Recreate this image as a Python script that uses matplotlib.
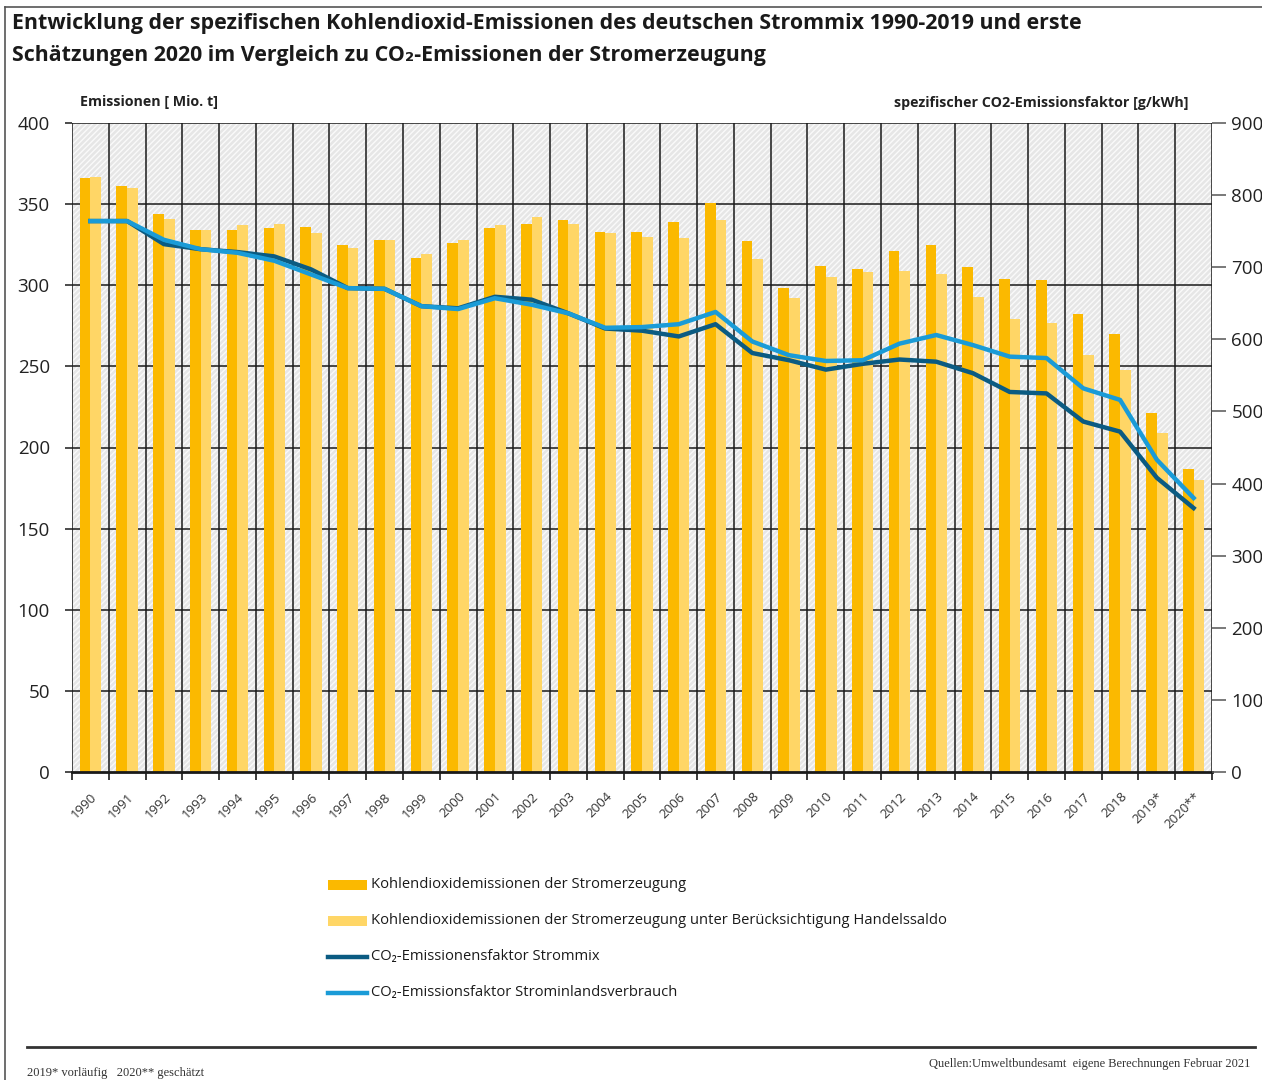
import matplotlib
matplotlib.use("Agg")
import matplotlib.pyplot as plt
import numpy as np
from matplotlib.patches import Rectangle
from matplotlib.lines import Line2D

# ---------------- data ----------------
years = ["1990", "1991", "1992", "1993", "1994", "1995", "1996", "1997", "1998", "1999",
         "2000", "2001", "2002", "2003", "2004", "2005", "2006", "2007", "2008", "2009",
         "2010", "2011", "2012", "2013", "2014", "2015", "2016", "2017", "2018", "2019*", "2020**"]

emissions_generation = [366, 361, 344, 334, 334, 335, 336, 325, 328, 317,
                        326, 335, 338, 340, 333, 333, 339, 351, 327, 298,
                        312, 310, 321, 325, 311, 304, 303, 282, 270, 221, 187]

emissions_trade = [367, 360, 341, 334, 337, 338, 332, 323, 328, 319,
                   328, 337, 342, 338, 332, 330, 329, 340, 316, 292,
                   305, 308, 309, 307, 293, 279, 277, 257, 248, 209, 180]

factor_strommix = [764, 764, 732, 725, 721, 715, 697, 671, 670, 646,
                   643, 659, 655, 636, 615, 612, 604, 621, 581, 571,
                   558, 566, 572, 569, 553, 527, 525, 486, 472, 408, 366]

factor_inland = [764, 764, 738, 725, 720, 709, 690, 671, 670, 646,
                 642, 657, 648, 636, 616, 617, 621, 638, 597, 578,
                 570, 571, 594, 606, 592, 576, 574, 532, 516, 433, 380]

legend_labels = ["Kohlendioxidemissionen der Stromerzeugung",
                 "Kohlendioxidemissionen der Stromerzeugung unter Berücksichtigung Handelssaldo",
                 "CO\u2082-Emissionensfaktor Strommix",
                 "CO\u2082-Emissionsfaktor Strominlandsverbrauch"]

title_line1 = "Entwicklung der spezifischen Kohlendioxid-Emissionen des deutschen Strommix 1990-2019 und erste"
title_line2 = "Schätzungen 2020 im Vergleich zu CO\u2082-Emissionen der Stromerzeugung"

# ---------------- style ----------------
C_DARK = "#FBB900"
C_LIGHT = "#FFD666"
C_NAVY = "#0B5B82"
C_BLUE = "#1A9BD7"
SANS = ["Open Sans", "DejaVu Sans"]
SERIF = ["Liberation Serif", "DejaVu Serif"]
plt.rcParams["font.family"] = SANS
plt.rcParams["hatch.linewidth"] = 1.0

W, H = 1262, 1080
fig = plt.figure(figsize=(W / 100, H / 100), dpi=100)
fig.patch.set_facecolor("white")

def fx(px):
    return px / W

def fy(py):
    return 1 - py / H

ax = fig.add_axes([fx(72), fy(772), fx(1212) - fx(72), fy(123) - fy(772)])
ax2 = ax.twinx()

n = len(years)
x = np.arange(n)
ax.set_xlim(-0.5, n - 0.5)
ax.set_ylim(0, 400)
ax2.set_ylim(0, 900)

# hatched background
ax.add_patch(Rectangle((0, 0), 1, 1, transform=ax.transAxes, facecolor="#E6E6E6",
                       edgecolor="#FAFAFA", hatch="//////", linewidth=0, zorder=0))

bw = 0.29
ax.bar(x - bw / 2, emissions_generation, width=bw, color=C_DARK, zorder=2, linewidth=0)
ax.bar(x + bw / 2, emissions_trade, width=bw, color=C_LIGHT, zorder=2, linewidth=0)

# grid
for b in np.arange(-0.5, n, 1.0):
    ax.axvline(b, color="#1a1a1a", lw=1.1, zorder=1)
for yv in range(50, 401, 50):
    ax.axhline(yv, color="#1a1a1a", lw=1.1, zorder=1)

ax2.plot(x, factor_strommix, color=C_NAVY, lw=3.2, zorder=4, solid_joinstyle="round")
ax2.plot(x, factor_inland, color=C_BLUE, lw=3.2, zorder=5, solid_joinstyle="round")
ax.set_zorder(1)
ax2.set_zorder(2)
ax2.patch.set_visible(False)

# ticks
ax.set_xticks(x)
ax.set_xticklabels(years, rotation=45, ha="right", rotation_mode="anchor",
                   fontsize=9.5, color="#333333")
ax.set_xticks(np.arange(-0.5, n, 1.0), minor=True)
ax.tick_params(axis="x", which="major", length=0, pad=13)
ax.tick_params(axis="x", which="minor", length=6, width=1.2, direction="out", color="#1a1a1a")
ax.set_yticks(range(0, 401, 50))
ax.tick_params(axis="y", which="major", length=5, width=1.1, direction="out",
               labelsize=13.5, pad=11, color="#1a1a1a")
ax2.set_yticks(range(0, 901, 100))
ax2.tick_params(axis="y", which="major", length=10, width=1.1, direction="out",
                labelsize=13.5, pad=4, color="#555555")
for a in (ax, ax2):
    for s in a.spines.values():
        s.set_visible(False)
ax.spines["bottom"].set_visible(True)
ax.spines["bottom"].set_linewidth(2)
ax.spines["bottom"].set_color("#1a1a1a")
for lab in ax.get_yticklabels() + ax2.get_yticklabels():
    lab.set_color("#222222")

# axis titles
fig.text(fx(80), fy(102), "Emissionen [ Mio. t]", fontsize=10.3, fontweight="bold",
         va="center", ha="left", color="#222222")
fig.text(fx(1189), fy(103), "spezifischer CO2-Emissionsfaktor [g/kWh]", fontsize=10.3,
         fontweight="bold", va="center", ha="right", color="#222222")

# title
fig.text(fx(12), fy(23), title_line1, fontsize=15.4, fontweight="bold", va="center", ha="left",
         color="#1a1a1a")
fig.text(fx(12), fy(55), title_line2, fontsize=15.4, fontweight="bold", va="center", ha="left",
         color="#1a1a1a")

# frame around figure (top and left)
fig.add_artist(Line2D([fx(5), fx(5)], [fy(7), 0], color="#555555", lw=1.2, transform=fig.transFigure))
fig.add_artist(Line2D([fx(5), 1], [fy(7), fy(7)], color="#555555", lw=1.2, transform=fig.transFigure))

# legend (manual)
leg_y = [885, 921, 957, 993]
for i, (lab, yy) in enumerate(zip(legend_labels, leg_y)):
    if i < 2:
        col = C_DARK if i == 0 else C_LIGHT
        fig.add_artist(Rectangle((fx(328), fy(yy + 5)), fx(367) - fx(328), fy(yy - 5) - fy(yy + 5),
                                 transform=fig.transFigure, facecolor=col, edgecolor="none"))
    else:
        col = C_NAVY if i == 2 else C_BLUE
        fig.add_artist(Line2D([fx(328), fx(367)], [fy(yy), fy(yy)], color=col, lw=3.2,
                              transform=fig.transFigure))
    fig.text(fx(371), fy(yy), lab, fontsize=10.6, va="center", ha="left", color="#1a1a1a")

# footer
fig.add_artist(Line2D([fx(27), fx(1255)], [fy(1047), fy(1047)], color="#333333", lw=2,
                      transform=fig.transFigure))
fig.text(fx(27), fy(1073), "2019* vorläufig   2020** geschätzt", fontsize=9,
         family=SERIF, va="center", ha="left", color="#333333")
fig.text(fx(1250), fy(1064), "Quellen:Umweltbundesamt  eigene Berechnungen Februar 2021", fontsize=9,
         family=SERIF, va="center", ha="right", color="#333333")

fig.savefig("out.png", dpi=100, facecolor="white")
